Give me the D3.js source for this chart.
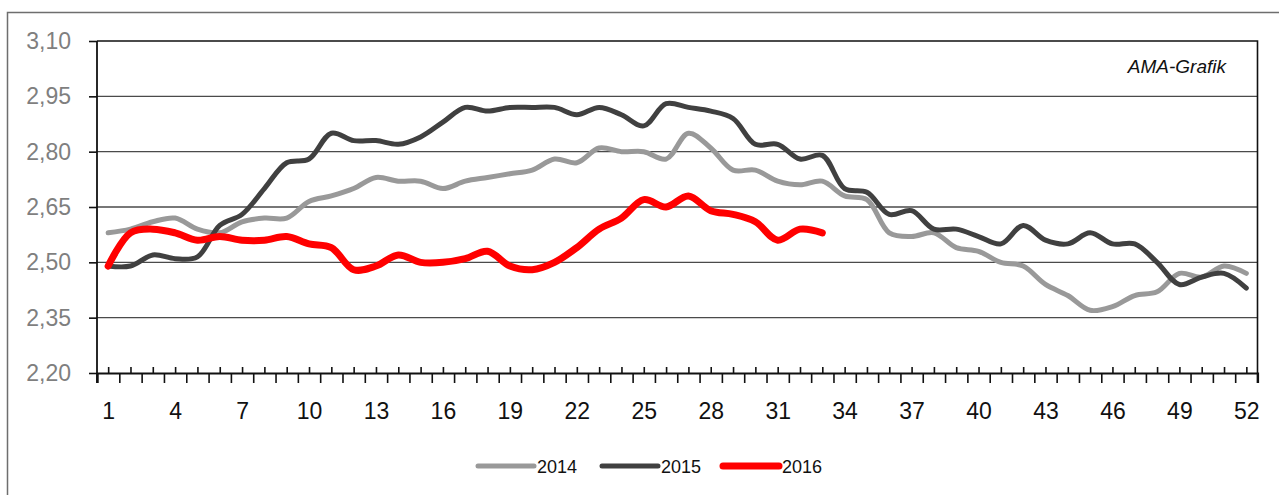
<!DOCTYPE html>
<html>
<head>
<meta charset="utf-8">
<script src="https://cdn.jsdelivr.net/npm/d3@7"></script>
<style>
  html, body { margin: 0; padding: 0; background: #fff; }
  svg { display: block; font-family: "Liberation Sans", Arial, sans-serif; }
</style>
</head>
<body>
<svg id="chart" width="1279" height="495"></svg>
<script>
const weeks = d3.range(1, 53);
const xTickLabels = [1, 4, 7, 10, 13, 16, 19, 22, 25, 28, 31, 34, 37, 40, 43, 46, 49, 52];
const yTickValues = [2.20, 2.35, 2.50, 2.65, 2.80, 2.95, 3.10];
const seriesNames = ["2014", "2015", "2016"];

const values2014 = [2.58, 2.59, 2.61, 2.62, 2.59, 2.58, 2.61, 2.62, 2.62, 2.665,
  2.68, 2.70, 2.73, 2.72, 2.72, 2.70, 2.72, 2.73, 2.74, 2.75,
  2.78, 2.77, 2.81, 2.80, 2.80, 2.78, 2.85, 2.81, 2.75, 2.75,
  2.72, 2.71, 2.72, 2.68, 2.67, 2.58, 2.57, 2.58, 2.54, 2.53,
  2.50, 2.49, 2.44, 2.41, 2.37, 2.38, 2.41, 2.42, 2.47, 2.46,
  2.49, 2.47];
const values2015 = [2.49, 2.49, 2.52, 2.51, 2.515, 2.60, 2.63, 2.70, 2.77, 2.78,
  2.85, 2.83, 2.83, 2.82, 2.84, 2.88, 2.92, 2.91, 2.92, 2.92,
  2.92, 2.90, 2.92, 2.90, 2.87, 2.93, 2.92, 2.91, 2.89, 2.82,
  2.82, 2.78, 2.79, 2.70, 2.69, 2.63, 2.64, 2.59, 2.59, 2.57,
  2.55, 2.60, 2.56, 2.55, 2.58, 2.55, 2.55, 2.50, 2.44, 2.46,
  2.47, 2.43];
const values2016 = [2.49, 2.58, 2.59, 2.58, 2.56, 2.57, 2.56, 2.56, 2.57, 2.55,
  2.54, 2.48, 2.49, 2.52, 2.50, 2.50, 2.51, 2.53, 2.49, 2.48,
  2.50, 2.54, 2.59, 2.62, 2.67, 2.65, 2.68, 2.64, 2.63, 2.61,
  2.56, 2.59, 2.58];

const seriesColors = ["#999999", "#404040", "#ff0000"];
const seriesWidths = [5, 5, 7];
const seriesValues = [values2014, values2015, values2016];

const svg = d3.select("#chart");
const plotL = 97, plotR = 1257.5, plotT = 41, plotB = 373;

// outer frame
svg.append("rect").attr("x", 7.5).attr("y", 12.5).attr("width", 1400).attr("height", 600)
  .attr("fill", "none").attr("stroke", "#6e6e6e").attr("stroke-width", 1.5);

const x = d3.scalePoint().domain(weeks).range([plotL, plotR]).padding(0.5);
const xb = d3.scaleLinear().domain([0, 52]).range([plotL, plotR]);
const y = d3.scaleLinear().domain([2.20, 3.10]).range([plotB, plotT]);

const locale = d3.formatLocale({decimal: ",", thousands: ".", grouping: [3], currency: ["", "€"]});
const fmt = locale.format(".2f");

// gridlines
svg.append("g").selectAll("line").data(yTickValues.filter(v => v > 2.2 && v < 3.1)).join("line")
  .attr("x1", plotL).attr("x2", plotR)
  .attr("y1", d => y(d)).attr("y2", d => y(d))
  .attr("stroke", "#4a4a4a").attr("stroke-width", 1.4);

// plot border (top, right)
svg.append("path")
  .attr("d", `M${plotL},${y(3.10)}H${plotR}V${plotB + 10}`)
  .attr("fill", "none").attr("stroke", "#111").attr("stroke-width", 1.6);

// y axis
const yAxis = svg.append("g").attr("transform", `translate(${plotL},0)`)
  .call(d3.axisLeft(y).tickValues(yTickValues).tickFormat(fmt).tickSize(8).tickPadding(18));
yAxis.select(".domain").attr("stroke", "#111").attr("stroke-width", 1.8)
  .attr("d", `M0,${plotT}V${plotB + 10}`);
yAxis.selectAll(".tick line").attr("stroke", "#111").attr("stroke-width", 1.6);
yAxis.selectAll(".tick text").attr("fill", "#7f7f7f").style("font-size", "23px")
  .attr("font-family", "\"Liberation Sans\", Arial, sans-serif");

// x axis: boundary ticks (outside)
const xbAxis = svg.append("g").attr("transform", `translate(0,${plotB})`)
  .call(d3.axisBottom(xb).tickValues(d3.range(0, 53)).tickSize(10).tickFormat(""));
xbAxis.select(".domain").attr("stroke", "#111").attr("stroke-width", 2.2);
xbAxis.selectAll(".tick line").attr("stroke", "#111").attr("stroke-width", 1.6);

// x axis: center ticks (inside) + labels
const xAxis = svg.append("g").attr("transform", `translate(0,${plotB})`)
  .call(d3.axisBottom(x).tickSizeInner(-6).tickSizeOuter(0).tickFormat(""));
xAxis.select(".domain").remove();
xAxis.selectAll(".tick line").attr("stroke", "#111").attr("stroke-width", 1.6);

const xLabels = svg.append("g").attr("transform", `translate(0,${plotB})`)
  .call(d3.axisBottom(x).tickValues(xTickLabels).tickSize(0).tickPadding(30));
xLabels.select(".domain").remove();
xLabels.selectAll(".tick text").attr("fill", "#111").style("font-size", "23px")
  .attr("font-family", "\"Liberation Sans\", Arial, sans-serif");

// lines
const line = d3.line()
  .x((d, i) => x(weeks[i]))
  .y(d => y(d))
  .curve(d3.curveCatmullRom.alpha(0.5));

svg.append("g").selectAll("path").data(seriesValues).join("path")
  .attr("d", d => line(d))
  .attr("fill", "none")
  .attr("stroke", (d, i) => seriesColors[i])
  .attr("stroke-width", (d, i) => seriesWidths[i])
  .attr("stroke-linejoin", "round")
  .attr("stroke-linecap", "round");

// annotation
svg.append("text").attr("x", 1226).attr("y", 73).attr("text-anchor", "end")
  .attr("font-style", "italic").attr("fill", "#111").style("font-size", "19px")
  .text("AMA-Grafik");

// legend
const legendX = [478, 602, 723];
const lg = svg.append("g").selectAll("g").data(seriesNames).join("g")
  .attr("transform", (d, i) => `translate(${legendX[i]},466)`);
lg.append("line").attr("x1", 0).attr("x2", 56).attr("y1", 0).attr("y2", 0)
  .attr("stroke", (d, i) => seriesColors[i])
  .attr("stroke-width", (d, i) => seriesWidths[i])
  .attr("stroke-linecap", "round");
lg.append("text").attr("x", 59).attr("y", 7).attr("fill", "#111")
  .style("font-size", "18px").text(d => d);
</script>
</body>
</html>
